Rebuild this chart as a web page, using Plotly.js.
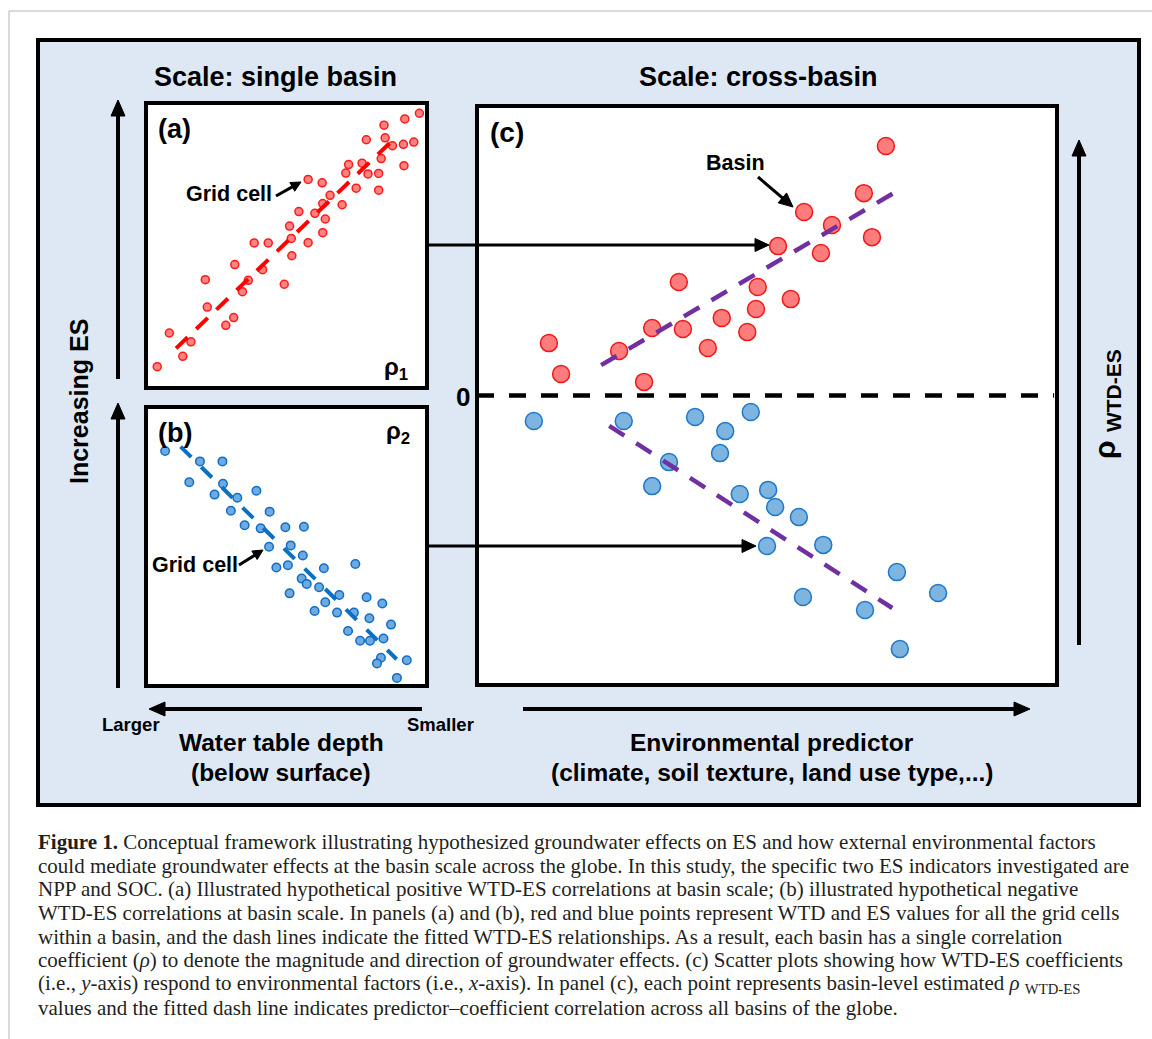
<!DOCTYPE html>
<html>
<head>
<meta charset="utf-8">
<script src="https://cdn.plot.ly/plotly-3.0.1.min.js"></script>
<style>html,body{margin:0;padding:0;background:#fff;}#chart{width:1152px;height:1039px;}</style>
</head>
<body>
<div id="chart"></div>
<script>
// ---------- DATA ----------
// Panel (a): grid cells of one basin, positive WTD-ES relationship (arbitrary units 0-10)
const aX = [0.40,0.83,1.31,1.60,2.11,2.18,2.84,3.12,3.16,3.43,3.64,3.85,4.15,4.35,4.92,5.11,5.19,5.17,5.44,5.77,5.77,6.01,6.27,6.29,6.38,6.29,6.55,6.98,7.11,7.21,7.48,7.69,7.84,7.90,8.28,8.28,8.37,8.47,8.51,8.77,9.16,9.18,9.21,9.53,9.73];
const aY = [0.75,1.93,1.11,1.62,3.80,2.84,2.20,2.47,4.33,3.38,3.78,5.09,4.15,5.09,3.64,5.68,4.64,5.25,6.19,5.10,7.32,6.13,7.20,6.47,5.93,5.45,6.76,6.43,7.54,7.84,7.01,7.89,8.71,7.51,7.53,6.94,8.05,9.22,8.78,8.50,8.55,7.80,9.44,8.63,9.64];
const aFitX = [1.07, 8.94];
const aFitY = [1.39, 8.85];

// Panel (b): grid cells of one basin, negative WTD-ES relationship
const bX = [0.68,1.54,1.92,2.44,2.72,2.74,3.02,3.25,3.51,3.93,4.08,4.40,4.38,4.64,4.96,5.05,5.15,5.11,5.58,5.54,5.62,5.72,6.00,6.16,6.33,6.38,6.80,6.88,7.19,7.40,7.45,7.62,7.85,7.95,7.97,8.41,8.45,8.36,8.22,8.72,9.28,8.93];
const bY = [8.42,7.30,8.05,6.86,8.05,7.25,6.28,6.75,5.76,7.00,5.65,6.25,4.99,4.25,5.69,4.33,5.04,3.32,4.68,3.85,5.71,3.66,2.69,3.54,4.22,3.00,2.63,3.26,1.97,2.63,4.37,1.62,3.18,2.43,1.62,2.96,1.70,1.01,0.81,2.20,0.92,0.29];
const bFitX = [1.23, 8.92];
const bFitY = [8.58, 0.96];

// Panel (c): basin-level rho WTD-ES vs environmental predictor
const cPosX = [7.05,5.64,6.67,6.12,5.19,5.93,6.81,3.48,4.84,5.41,4.81,4.22,3.55,3.02,4.66,3.98,2.45,1.24,1.45,2.88];
const cPosY = [0.862,0.634,0.699,0.589,0.516,0.492,0.547,0.392,0.375,0.333,0.299,0.268,0.230,0.233,0.219,0.164,0.154,0.181,0.074,0.047];
const cNegX = [0.98,2.53,3.76,4.72,4.28,4.19,3.31,3.02,4.53,5.02,5.14,5.55,5.97,5.00,7.24,7.95,5.62,6.69,7.29];
const cNegY = [-0.088,-0.088,-0.074,-0.057,-0.123,-0.199,-0.230,-0.313,-0.340,-0.326,-0.385,-0.420,-0.516,-0.520,-0.610,-0.682,-0.696,-0.741,-0.876];
const cPosFitX = [2.14, 7.24];
const cPosFitY = [0.105, 0.706];
const cNegFitX = [2.28, 7.16];
const cNegFitY = [-0.105, -0.734];

const captionLines = [
  "<b>Figure 1.</b> Conceptual framework illustrating hypothesized groundwater effects on ES and how external environmental factors",
  "could mediate groundwater effects at the basin scale across the globe. In this study, the specific two ES indicators investigated are",
  "NPP and SOC. (a) Illustrated hypothetical positive WTD-ES correlations at basin scale; (b) illustrated hypothetical negative",
  "WTD-ES correlations at basin scale. In panels (a) and (b), red and blue points represent WTD and ES values for all the grid cells",
  "within a basin, and the dash lines indicate the fitted WTD-ES relationships. As a result, each basin has a single correlation",
  "coefficient (<i>ρ</i>) to denote the magnitude and direction of groundwater effects. (c) Scatter plots showing how WTD-ES coefficients",
  "(i.e., <i>y</i>-axis) respond to environmental factors (i.e., <i>x</i>-axis). In panel (c), each point represents basin-level estimated <i>ρ</i> <sub>WTD-ES</sub>",
  "values and the fitted dash line indicates predictor–coefficient correlation across all basins of the globe."
];

// ---------- LAYOUT HELPERS ----------
const W = 1152, H = 1039;
const X = px => px / W;
const Y = py => 1 - py / H;
const SANS = "Liberation Sans, Arial, sans-serif";
const SERIF = "Liberation Serif, Times New Roman, serif";

const shapes = [];
const annotations = [];

function rectPx(x0, y0, x1, y1, fill, lw) {
  shapes.push({type:'rect', xref:'paper', yref:'paper', x0:X(x0), x1:X(x1), y0:Y(y1), y1:Y(y0),
    fillcolor:fill, line:{color:'#000', width:lw}, layer:'below'});
}
function linePx(x0, y0, x1, y1, color, w, layer) {
  shapes.push({type:'line', xref:'paper', yref:'paper', x0:X(x0), y0:Y(y0), x1:X(x1), y1:Y(y1),
    line:{color:color, width:w}, layer: layer || 'above'});
}
function arrowPx(x0, y0, x1, y1, w, hl, hw) {
  const dx = x1 - x0, dy = y1 - y0, L = Math.hypot(dx, dy);
  const ux = dx / L, uy = dy / L, nx = -uy, ny = ux;
  const bx = x1 - ux * hl, by = y1 - uy * hl;
  linePx(x0, y0, bx + ux * 2, by + uy * 2, '#000', w);
  const p = [[x1, y1], [bx + nx * hw / 2, by + ny * hw / 2], [bx - nx * hw / 2, by - ny * hw / 2]];
  shapes.push({type:'path', xref:'paper', yref:'paper',
    path: 'M ' + p.map(q => X(q[0]) + ',' + Y(q[1])).join(' L ') + ' Z',
    fillcolor:'#000', line:{color:'#000', width:1}});
}
function txt(text, px, py, size, extra) {
  annotations.push(Object.assign({xref:'paper', yref:'paper', x:X(px), y:Y(py), text:text, showarrow:false,
    xanchor:'center', yanchor:'middle', font:{family:SANS, size:size, color:'#000'}}, extra || {}));
}

// frame of the page
linePx(9, 11, 1152, 11, '#b5b5b5', 1, 'below');
linePx(9, 11, 9, 1039, '#b5b5b5', 1, 'below');
// blue background box
rectPx(38, 40, 1139, 805, '#dde8f4', 4);
// panel boxes
rectPx(146, 103, 427, 388, '#ffffff', 4);
rectPx(146, 407, 427, 686, '#ffffff', 4);
rectPx(477, 106, 1057, 685, '#ffffff', 4);

// zero line in panel (c)
shapes.push({type:'line', xref:'x3 domain', yref:'y3', x0:0, x1:0.995, y0:0, y1:0,
  line:{color:'#000', width:4.5, dash:'17px,15px'}});

// arrows
arrowPx(118, 379, 118, 100, 4, 16, 14);
arrowPx(118, 688, 118, 403, 4, 16, 14);
arrowPx(1079, 645, 1079, 140, 4, 16, 14);
arrowPx(422, 709, 149, 709, 4, 16, 14);
arrowPx(523, 709, 1030, 709, 4, 16, 14);
arrowPx(427, 245, 769, 245, 3, 14, 13);
arrowPx(427, 546, 756, 546, 3, 14, 13);
arrowPx(758, 177, 793, 207, 3, 14, 13);
arrowPx(276, 196, 301, 182, 3, 10, 10);
arrowPx(239, 565, 263, 550, 3, 10, 10);

// texts
txt('<b>Scale: single basin</b>', 275, 77, 27);
txt('<b>Scale: cross-basin</b>', 758, 77, 27);
txt('<b>(a)</b>', 174, 129, 27);
txt('<b>(b)</b>', 175, 433, 27);
txt('<b>(c)</b>', 507, 133, 28);
txt('<b>ρ<sub>1</sub></b>', 396, 369, 24);
txt('<b>ρ<sub>2</sub></b>', 398, 432, 24);
txt('<b>Grid cell</b>', 229, 194, 21.5);
txt('<b>Grid cell</b>', 195, 565, 21.5);
txt('<b>Basin</b>', 735, 163, 21.5);
txt('<b>0</b>', 463, 397, 26);
txt('<b>Increasing ES</b>', 79, 402, 25, {textangle:-90});
txt('<b>ρ <sub>WTD-ES</sub></b>', 1106, 404, 30, {textangle:-90});
txt('<b>Larger</b>', 131, 724, 18.5);
txt('<b>Smaller</b>', 440, 724, 18.5);
txt('<b>Water table depth</b>', 281, 742, 24.5);
txt('<b>(below surface)</b>', 281, 772, 24.5);
txt('<b>Environmental predictor</b>', 772, 742, 24.5);
txt('<b>(climate, soil texture, land use type,...)</b>', 772, 772, 24.5);

const capY = [842, 866, 889, 913, 937, 960, 984, 1008];
captionLines.forEach((t, i) => {
  txt(t, 36, capY[i], 21, {xanchor:'left', font:{family:SERIF, size:21, color:'#231f20'}});
});

// ---------- TRACES ----------
const traces = [
  {x:aX, y:aY, xaxis:'x', yaxis:'y', mode:'markers', type:'scatter', cliponaxis:false,
   marker:{size:8, color:'#ff8282', line:{color:'#ff1a1a', width:1.5}}},
  {x:aFitX, y:aFitY, xaxis:'x', yaxis:'y', mode:'lines', type:'scatter', cliponaxis:false,
   line:{color:'#ff0000', width:4, dash:'16px,12px'}},
  {x:bX, y:bY, xaxis:'x2', yaxis:'y2', mode:'markers', type:'scatter', cliponaxis:false,
   marker:{size:8.5, color:'#6eaadf', line:{color:'#0f6fc6', width:1.5}}},
  {x:bFitX, y:bFitY, xaxis:'x2', yaxis:'y2', mode:'lines', type:'scatter', cliponaxis:false,
   line:{color:'#0b6fc2', width:4, dash:'15px,14px'}},
  {x:cPosX, y:cPosY, xaxis:'x3', yaxis:'y3', mode:'markers', type:'scatter', cliponaxis:false,
   marker:{size:17, color:'#ff7c7c', line:{color:'#f01818', width:1.5}}},
  {x:cNegX, y:cNegY, xaxis:'x3', yaxis:'y3', mode:'markers', type:'scatter', cliponaxis:false,
   marker:{size:17, color:'#7db4e0', line:{color:'#1f78c8', width:1.5}}},
  {x:cPosFitX, y:cPosFitY, xaxis:'x3', yaxis:'y3', mode:'lines', type:'scatter', cliponaxis:false,
   line:{color:'#7030a0', width:4.5, dash:'18px,14px'}},
  {x:cNegFitX, y:cNegFitY, xaxis:'x3', yaxis:'y3', mode:'lines', type:'scatter', cliponaxis:false,
   line:{color:'#7030a0', width:4.5, dash:'18px,14px'}}
];

const hid = {visible:false, fixedrange:true, showgrid:false, zeroline:false};
const layout = {
  width:W, height:H, autosize:false, showlegend:false,
  margin:{l:0, r:0, t:0, b:0, pad:0},
  paper_bgcolor:'#ffffff', plot_bgcolor:'rgba(0,0,0,0)',
  xaxis: Object.assign({domain:[X(146), X(427)], range:[0,10]}, hid),
  yaxis: Object.assign({domain:[Y(388), Y(103)], range:[0,10]}, hid),
  xaxis2: Object.assign({domain:[X(146), X(427)], range:[0,10], anchor:'y2'}, hid),
  yaxis2: Object.assign({domain:[Y(686), Y(407)], range:[0,10], anchor:'x2'}, hid),
  xaxis3: Object.assign({domain:[X(477), X(1057)], range:[0,10], anchor:'y3'}, hid),
  yaxis3: Object.assign({domain:[Y(685), Y(106)], range:[-1,1], anchor:'x3'}, hid),
  shapes:shapes, annotations:annotations
};

Plotly.newPlot('chart', traces, layout, {staticPlot:true, displayModeBar:false});
</script>
</body>
</html>
